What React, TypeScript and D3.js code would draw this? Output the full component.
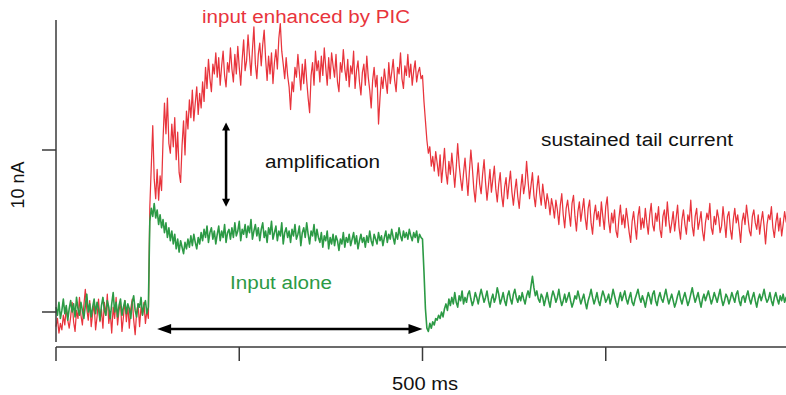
import React from "react";
import * as d3 from "d3";

// sampling interval of the traces (ms)
const SAMPLE_MS = 2;

// Current traces (nA), one sample every 2 ms
const inputAlone = [
  0.3, -0.2, 0.6, -0.4, 0.1, 0.8, -0.1, 0.4, -0.5, 0.2,
  0.7, 0.0, 0.5, -0.3, 0.9, 0.2, -0.2, 0.6, 0.1, -0.4,
  0.4, 1.1, 0.0, 0.5, -0.3, 0.3, 0.8, -0.1, 0.6, 0.2,
  -0.5, 0.4, 0.9, 0.1, -0.2, 0.7, 0.3, -0.4, 0.5, 1.2,
  0.0, 0.6, -0.3, 0.4, 0.8, -0.2, 0.3, 0.7, -0.1, 0.5,
  0.2, -0.4, 0.6, 1.0, 0.1, -0.3, 0.5, 0.3, 0.9, -0.2,
  0.4, 0.7, -0.1, 0.3,
  5.6, 6.4, 5.9, 6.7, 5.8, 6.3,
  5.4, 6.0, 5.2, 5.7, 4.9, 5.5, 4.6, 5.2, 4.4, 5.0,
  4.2, 4.8, 3.9, 4.5, 3.7, 4.4, 4.0, 3.6, 4.3, 3.9,
  4.5, 4.0, 4.7, 4.1, 4.8, 4.3, 3.9, 4.6, 4.2, 4.9,
  4.4, 5.1, 4.6, 5.3, 4.3, 4.9, 5.2, 4.5, 5.0, 4.2,
  4.8, 5.3, 4.4, 5.0, 4.6, 5.4, 4.3, 4.9, 5.1, 4.5,
  5.2, 4.6, 5.5, 4.7, 5.0, 5.6, 4.4, 5.1, 4.8, 5.4,
  4.6, 5.3, 4.9, 5.7, 4.5, 5.0, 5.4, 4.7, 5.2, 4.4,
  5.1, 5.5, 4.6, 5.0, 4.3, 5.2, 4.8, 5.6, 4.5, 4.9,
  5.3, 4.4, 5.0, 4.7, 5.5, 4.2, 4.9, 5.2, 4.6, 5.0,
  4.3, 5.1, 4.7, 5.4, 4.5, 4.8, 5.3, 4.1, 4.9, 5.2,
  4.6, 5.5, 4.8, 4.2, 5.0, 4.7, 5.4, 4.4, 5.1, 4.6,
  4.3, 4.9, 4.0, 4.7, 4.4, 5.0, 3.9, 4.6, 4.2, 4.8,
  4.1, 4.7, 4.4, 3.8, 4.5, 4.2, 4.9, 4.0, 4.6, 4.3,
  4.8, 4.1, 4.5, 4.9, 4.2, 4.7, 3.9, 4.4, 4.8, 4.3,
  4.6, 4.0, 4.7, 4.3, 5.0, 4.4, 4.1, 4.8, 4.5, 4.2,
  4.9, 4.4, 4.7, 4.1, 4.6, 5.0, 4.3, 4.8, 4.5, 5.1,
  4.6, 4.2, 4.9, 4.5, 5.2, 4.7, 4.4, 5.0, 4.6, 4.9,
  4.5, 5.1, 4.7, 4.4, 4.9, 4.6, 5.0, 4.3, 4.8, 4.6,
  4.5, 2.5, 0.2, -1.0, -1.2, -0.7, -1.0, -0.6, -0.8, -0.4,
  -0.5, -0.2, -0.4, 0.0, -0.3, 0.2, 0.5, 0.1, 0.8, 0.4,
  0.9, 0.5, 1.2, 0.6, 0.3, 1.0, 0.7, 1.3, 0.5, 0.9,
  0.6, 1.1, 1.3, 0.8, 0.4, 0.7, 1.2, 0.9, 0.5, 1.0,
  1.4, 1.0, 0.6, 0.9, 1.3, 0.7, 0.3, 0.8, 1.1, 0.6,
  0.9, 1.5, 1.1, 0.5, 0.8, 1.2, 0.7, 0.4, 1.0, 1.3,
  0.8, 0.5, 1.1, 1.4, 0.9, 0.6, 1.0, 0.7, 1.2, 0.8,
  0.5, 1.0, 1.3, 0.9, 1.6, 2.2, 1.5, 1.0, 1.3, 0.8,
  0.6, 1.1, 0.9, 0.4, 0.8, 1.2, 0.7, 0.3, 0.9, 1.3,
  1.0, 0.6, 0.9, 1.4, 0.8, 0.4, 0.7, 1.1, 0.6, 0.9,
  1.2, 0.7, 0.3, 0.6, 1.0, 0.8, 1.3, 0.9, 0.5, 0.8,
  1.1, 0.6, 0.2, 0.7, 1.0, 1.4, 0.9, 0.5, 0.8, 1.2,
  0.7, 0.4, 0.9, 1.3, 1.0, 0.6, 0.8, 1.1, 0.5, 0.9,
  1.4, 1.0, 0.6, 0.3, 0.8, 1.2, 0.7, 1.0, 1.3, 0.8,
  0.5, 0.9, 1.2, 0.6, 0.4, 0.8, 1.1, 1.4, 0.9, 0.6,
  1.0, 0.7, 0.3, 0.8, 1.2, 0.9, 0.5, 1.1, 1.3, 0.7,
  0.4, 0.9, 1.2, 0.8, 0.6, 1.0, 1.4, 0.9, 0.5, 0.8,
  1.1, 0.7, 0.3, 0.6, 1.0, 1.3, 0.8, 0.5, 0.9, 1.2,
  0.8, 0.4, 0.7, 1.1, 1.5, 1.0, 0.6, 0.9, 1.2, 0.7,
  0.3, 0.8, 1.1, 0.7, 1.0, 1.3, 0.9, 0.5, 0.8, 1.2,
  0.9, 0.6, 1.0, 1.4, 0.8, 0.4, 0.7, 1.1, 0.9, 0.5,
  0.8, 1.2, 0.9, 0.6, 1.1, 1.3, 0.7, 0.4, 0.9, 1.0,
  0.6, 1.0, 1.3, 0.8, 0.5, 0.9, 1.2, 0.7, 0.3, 0.8,
  1.1, 0.7, 1.0, 1.4, 0.9, 0.6, 0.8, 1.2, 0.7, 0.4,
  0.9, 1.2, 0.8, 0.5, 1.0, 0.7, 1.1, 0.6, 0.9, 0.7,
];

const enhancedByPIC = [
  -0.9, -0.4, -1.3, -0.7, -1.1, -0.2, -0.8, 0.3, -0.5, -1.0,
  -0.3, 0.6, -0.6, -1.2, 0.1, -0.4, 0.9, -0.2, -0.8, 0.4,
  1.4, 0.2, -0.5, 0.7, -0.9, -0.1, 0.5, -1.1, -0.3, 0.8,
  -0.6, 0.2, -1.0, 0.6, -0.2, 1.1, -0.7, 0.0, -1.3, 0.3,
  -0.4, 0.9, -0.8, 0.1, 0.6, -1.2, -0.3, 0.7, -0.6, 0.4,
  -1.0, 0.2, 0.8, -0.5, -1.4, 0.0, 0.5, -0.9, 0.3, -0.2,
  0.6, -0.7, 0.1, -0.4,
  6.5, 9.0, 11.5, 8.2, 7.0, 8.8,
  6.9, 8.4, 7.5, 10.6, 12.9, 11.0, 13.2, 10.4, 9.8, 11.6,
  10.2, 12.0, 9.4, 11.1, 8.6, 8.0, 10.3, 11.8, 9.7, 12.4,
  11.3, 13.1, 12.0, 13.7, 11.8, 12.9, 13.9, 12.2, 13.5, 12.6,
  14.2, 13.0, 15.1, 13.8, 15.6, 14.4, 13.6, 15.3, 14.7, 16.0,
  14.5, 15.7, 14.0, 15.2, 16.1, 14.6, 13.9, 15.4, 14.8, 16.3,
  15.0, 14.2, 15.9, 14.7, 16.4, 15.1, 14.0, 15.6, 16.8, 14.9,
  15.5, 17.1, 15.8, 14.6, 16.2, 17.6, 15.3, 14.4, 15.9, 16.6,
  15.2, 16.5, 17.4, 15.6, 14.3, 15.8, 14.7, 16.0, 14.1, 15.4,
  16.2, 15.0, 16.9, 17.8, 16.1, 15.3, 14.4, 15.7, 14.6, 13.9,
  12.5, 14.2, 13.6, 15.1, 14.5, 15.9, 14.8, 13.7, 15.3, 14.1,
  15.6, 14.3, 13.2, 12.3, 14.6, 15.4, 14.0, 16.1, 14.9, 15.5,
  14.2, 15.8, 14.6, 16.3, 15.1, 14.0, 15.7, 14.4, 16.0, 15.2,
  14.5, 15.9, 14.2, 13.6, 15.4, 14.8, 16.2, 15.0, 14.3, 15.6,
  13.9, 15.2, 14.7, 16.1, 13.8, 14.9, 15.5, 14.2, 13.4, 14.8,
  15.3, 14.0, 15.8, 14.5, 13.7, 12.6, 14.3, 15.1, 13.9, 14.6,
  11.6, 13.2, 14.5, 13.8, 15.0, 14.2, 13.5, 15.4, 14.1, 14.8,
  15.6, 14.3, 13.6, 15.1, 14.7, 16.0, 14.4, 13.8, 15.2, 14.6,
  15.9, 14.5, 15.3, 14.0, 14.9, 15.5, 14.2, 14.8, 15.1, 14.4,
  14.6, 13.0, 11.8, 10.6, 9.8, 10.2, 9.0, 9.6, 8.7, 9.9,
  9.2, 8.4, 9.7, 8.0, 9.0, 10.1, 8.6, 7.9, 9.3, 8.5,
  9.8, 8.8, 7.7, 8.9, 10.4, 9.1, 8.2, 7.5, 8.6, 9.5,
  8.3, 7.2, 8.7, 10.0, 8.9, 7.6, 6.8, 8.1, 9.2, 7.9,
  7.3, 8.5, 9.4, 8.0, 6.9, 7.8, 8.8, 7.4, 8.2, 9.0,
  7.6, 6.8, 7.9, 8.6, 7.2, 6.5, 7.7, 8.3, 7.0, 7.9,
  8.7, 7.4, 6.6, 7.5, 8.2, 7.1, 6.4, 7.6, 8.5, 7.3,
  7.9, 9.3, 8.1, 7.0, 7.8, 8.6, 7.2, 6.5, 7.6, 8.4,
  7.3, 6.6, 7.9, 7.1, 6.4, 7.3, 6.8, 6.0, 7.0, 6.5,
  5.8, 6.9, 6.3, 5.4, 6.6, 7.3, 6.0, 5.2, 6.4, 6.9,
  6.1, 5.3, 6.7, 7.2, 5.9, 5.0, 6.2, 6.8, 5.6, 6.3,
  7.0, 5.8, 5.1, 6.4, 6.9, 5.5, 4.8, 6.0, 6.6, 5.7,
  6.2, 5.3, 6.8, 5.9, 5.1, 6.5, 7.1, 5.6, 4.9, 6.1,
  5.5, 6.3, 5.0, 4.6, 5.8, 6.6, 5.4, 6.0, 5.2, 6.4,
  5.7, 4.9, 4.3, 5.6, 6.2, 5.3, 4.5, 5.9, 6.5, 5.1,
  5.8, 5.2, 6.4, 5.5, 4.8, 6.0, 6.7, 5.4, 5.0, 6.1,
  5.6, 6.5, 5.1, 4.6, 5.9, 6.3, 5.3, 6.8, 5.7, 4.9,
  5.5, 6.2, 5.0, 5.8, 6.6, 5.2, 4.5, 5.7, 6.3, 5.4,
  4.8, 6.0, 5.6, 6.9, 5.3, 4.7, 5.9, 6.4, 5.1, 5.6,
  6.2, 5.0, 4.4, 5.5, 6.1, 5.7, 6.7, 5.2, 4.8, 5.9,
  5.4, 6.3, 5.8, 4.9, 5.3, 6.5, 5.6, 4.6, 5.9, 6.2,
  5.1, 4.5, 5.7, 6.4, 5.5, 6.0, 5.2, 4.3, 5.6, 6.1,
  5.4, 6.6, 5.8, 5.0, 4.7, 5.9, 6.3, 5.5, 5.1, 6.0,
  4.8, 5.6, 6.2, 5.3, 4.2, 5.4, 6.0, 5.7, 6.5, 5.2,
  4.6, 5.5, 6.1, 5.0, 5.8, 4.7, 5.4, 6.2, 5.6, 5.3,
];

const xTicks = [0, 250, 500, 750, 1000];
const yTicks = [0, 10];
const xLabel = "500 ms";
const yLabel = "10 nA";

// annotation anchors in data units
const stimulusWindow = [138, 500]; // ms, horizontal arrow
const stimulusArrowLevel = -1.05; // nA
const ampArrowTime = 232; // ms
const ampArrowRange = [6.5, 11.7]; // nA

const RED = "#e8343c";
const GREEN = "#2c9a45";
const AXIS = "#3a3a3a";

export default function App() {
  const W = 786;
  const H = 395;
  const x = d3.scaleLinear().domain([0, 1000]).range([56, 789]);
  const y = d3.scaleLinear().domain([0, 10]).range([312, 150]);

  const line = d3
    .line<number>()
    .x((_, i) => x(i * SAMPLE_MS))
    .y((d) => y(d));

  const font = "'Liberation Sans', Arial, Helvetica, sans-serif";

  const head = 8;
  const hw = 4;
  const ax = x(ampArrowTime);
  const ayTop = y(ampArrowRange[1]);
  const ayBot = y(ampArrowRange[0]);
  const hxL = x(stimulusWindow[0]);
  const hxR = x(stimulusWindow[1]);
  const hy = y(stimulusArrowLevel);

  return (
    <svg
      width={W}
      height={H}
      style={{ position: "absolute", left: 0, top: 0, background: "#fff" }}
      fontFamily={font}
    >
      {/* traces */}
      <path d={line(enhancedByPIC) || ""} fill="none" stroke={RED} strokeWidth={1.25} strokeLinejoin="round" />
      <path d={line(inputAlone) || ""} fill="none" stroke={GREEN} strokeWidth={1.6} strokeLinejoin="round" />

      {/* y axis */}
      <line x1={56} x2={56} y1={20} y2={342} stroke={AXIS} strokeWidth={1.5} />
      {yTicks.map((t) => (
        <line key={t} x1={42} x2={56} y1={y(t)} y2={y(t)} stroke={AXIS} strokeWidth={1.5} />
      ))}
      <text
        transform={`translate(24,${185}) rotate(-90)`}
        textAnchor="middle"
        fontSize={18}
        fill="#111"
      >
        {yLabel}
      </text>

      {/* x axis */}
      <line x1={56} x2={W} y1={347} y2={347} stroke={AXIS} strokeWidth={1.5} />
      {xTicks.map((t) => (
        <line key={t} x1={x(t)} x2={x(t)} y1={347} y2={361} stroke={AXIS} strokeWidth={1.5} />
      ))}
      <text x={392} y={390} fontSize={19} fill="#111" textLength={66} lengthAdjust="spacingAndGlyphs">
        {xLabel}
      </text>

      {/* vertical amplification arrow */}
      <line x1={ax} x2={ax} y1={ayTop + head - 1} y2={ayBot - head + 1} stroke="#000" strokeWidth={2.5} />
      <path d={`M${ax},${ayTop} L${ax - hw},${ayTop + head} L${ax + hw},${ayTop + head} Z`} fill="#000" />
      <path d={`M${ax},${ayBot} L${ax - hw},${ayBot - head} L${ax + hw},${ayBot - head} Z`} fill="#000" />

      {/* horizontal stimulus arrow */}
      <line x1={hxL + 12} x2={hxR - 12} y1={hy} y2={hy} stroke="#000" strokeWidth={2.5} />
      <path d={`M${hxL},${hy} L${hxL + 14},${hy - 5} L${hxL + 14},${hy + 5} Z`} fill="#000" />
      <path d={`M${hxR},${hy} L${hxR - 14},${hy - 5} L${hxR - 14},${hy + 5} Z`} fill="#000" />

      {/* labels */}
      <text x={202} y={23} fontSize={18} fill={RED} textLength={208} lengthAdjust="spacingAndGlyphs">
        input enhanced by PIC
      </text>
      <text x={265} y={168} fontSize={18} fill="#111" textLength={115} lengthAdjust="spacingAndGlyphs">
        amplification
      </text>
      <text x={541} y={146} fontSize={18} fill="#111" textLength={192} lengthAdjust="spacingAndGlyphs">
        sustained tail current
      </text>
      <text x={230} y={289} fontSize={18} fill={GREEN} textLength={102} lengthAdjust="spacingAndGlyphs">
        Input alone
      </text>
    </svg>
  );
}
